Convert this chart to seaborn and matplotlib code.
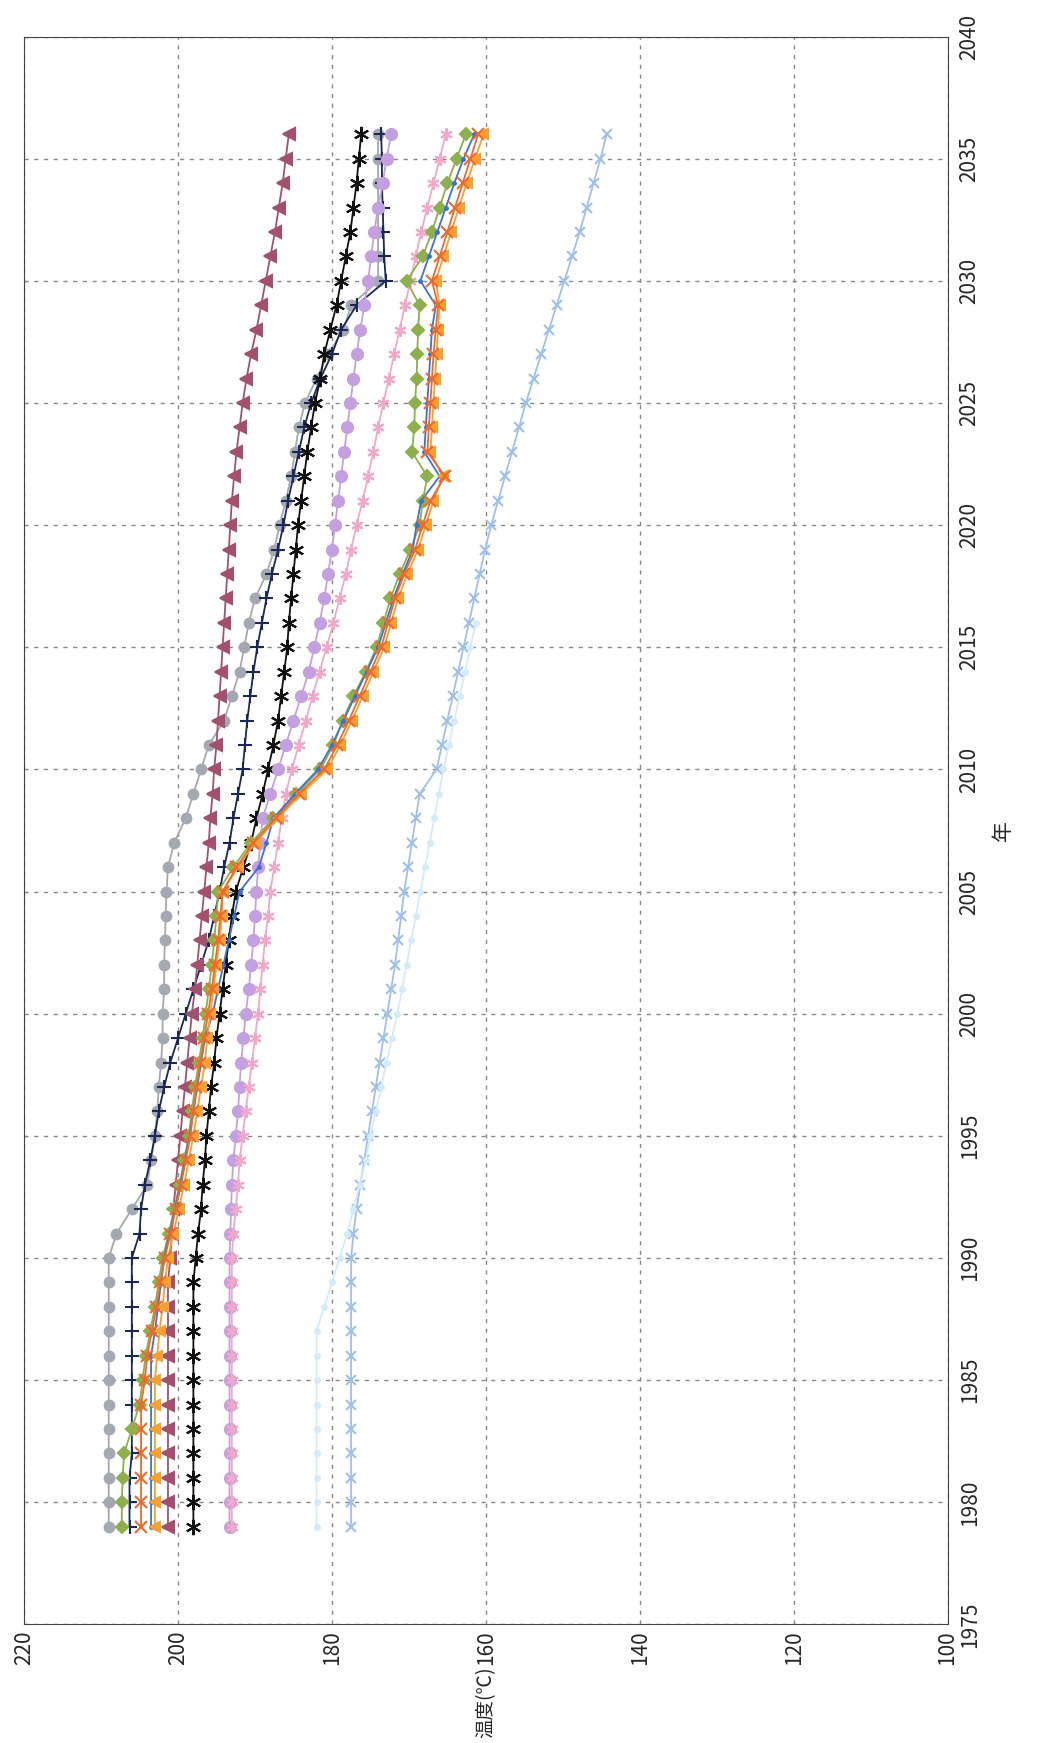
import numpy as np
import pandas as pd
import matplotlib
matplotlib.use("Agg")
import matplotlib.pyplot as plt
import seaborn as sns

years = list(range(1979, 2037))
nan = np.nan

gray = [209]*12 + [208, 206, 204, 203.5, 203, 202.7, 202.5, 202.2, 202, 202,
        201.8, 201.8, 201.7, 201.6, 201.5, 201.3, 200.5, 199, 198, 197,
        196, 194, 193, 192, 191.4, 190.8, 190, 188.5, 187.5, 186.8,
        186, 185.3, 184.8, 184.3, 183.5, 182, 180.5, 178.5, 177.5,
        174, 174, 174, 174, 174, 174, 174]
navy = [206.3]*3 + [206]*9 + [205, 204.8, 204.3, 203.6, 203, 202.5, 201.8, 201, 200, 199,
        198, 197, 196, 195.3, 194.6, 194, 193.3, 192.8, 192.2, 191.6,
        191.3, 191, 190.6, 190.2, 189.7, 189.1, 188.5, 187.8, 187, 186.3,
        185.7, 185, 184.3, 183.6, 182.7, 181.5, 180, 178.8, 176.8, 173,
        173.2, 173.3, 173.4, 173.5, 173.5, 173.6]
black = [198]*11 + [197.7, 197.4, 197, 196.8, 196.5, 196.3, 196, 195.7, 195.3, 195,
         194.6, 194.2, 193.8, 193.4, 193, 192.5, 191.5, 190.5, 189.8, 189,
         188.3, 187.6, 187, 186.6, 186.2, 185.8, 185.6, 185.3, 185, 184.7,
         184.4, 184, 183.6, 183.2, 182.7, 182.2, 181.5, 181, 180.2, 179.4,
         178.8, 178.2, 177.6, 177.2, 176.8, 176.5, 176.2]
maroon = [201.3]*11 + [201, 200.8, 200.6, 200.3, 200, 199.7, 199.4, 199.1, 198.8, 198.5,
          198.2, 197.8, 197.5, 197.2, 196.9, 196.6, 196.3, 196, 195.8, 195.5,
          195.3, 195, 194.8, 194.6, 194.4, 194.2, 194, 193.8, 193.6, 193.4,
          193.2, 193, 192.7, 192.4, 192, 191.6, 191.1, 190.5, 189.8, 189.2,
          188.6, 188, 187.4, 186.9, 186.4, 186, 185.6]
purple = [193.3]*12 + [193.2, 193.1, 193, 192.8, 192.5, 192.2, 192, 191.8, 191.5, 191.2,
          190.8, 190.5, 190.2, 190, 189.8, 189.6, 189.3, 189, 188, 187,
          186, 185, 184, 183, 182.3, 181.6, 181, 180.5, 180, 179.6,
          179.2, 178.8, 178.4, 178, 177.6, 177.2, 176.8, 176.3, 175.8, 175.3,
          174.9, 174.5, 174, 173.4, 172.9, 172.3]
pink = [193]*12 + [192.8, 192.5, 192.2, 192, 191.6, 191.2, 190.8, 190.4, 190, 189.6,
        189.3, 189, 188.7, 188.3, 188, 187.5, 187, 186.5, 186, 185.2,
        184.3, 183.4, 182.5, 181.6, 180.7, 179.8, 179, 178.2, 177.5, 176.8,
        176, 175.3, 174.6, 174, 173.3, 172.6, 171.9, 171.2, 170.5, 169.8,
        169.1, 168.4, 167.6, 166.8, 166, 165.2]
lightblue = [177.5]*12 + [177.2, 176.8, 176.3, 175.8, 175.3, 174.8, 174.3, 173.8, 173.3, 172.8,
             172.3, 171.8, 171.4, 171, 170.6, 170.1, 169.6, 169.1, 168.6, 166.4,
             165.7, 165, 164.3, 163.6, 162.9, 162.2, 161.5, 160.8, 160.1, 159.3,
             158.4, 157.5, 156.6, 155.7, 154.8, 153.8, 152.8, 151.8, 150.8, 149.8,
             148.8, 147.8, 146.9, 146, 145.1, 144.3]
pale = [182]*9 + [181, 180, 179, 178, 177.2, 176.4, 175.6, 175, 174.3, 173.6,
        172.9, 172.2, 171.5, 170.9, 170.3, 169.7, 169.1, 168.5, 167.9, 167.3,
        166.7, 166.1, 165.5, 164.8, 164.1, 163.4, 162.7, 162, 161.3] + [nan]*20
green = [207.3, 207.3, 207.2, 207, 206, 205, 204.6, 204.2, 203.6, 203,
         202.5, 202, 201.2, 200.5, 199.8, 199.2, 198.6, 198.2, 197.8, 197.3,
         196.8, 196.4, 196, 195.6, 195.3, 195, 194.8, 192.8, 190.5, 187.6,
         184.6, 181.5, 179.8, 178.6, 177.2, 175.6, 174.2, 173.3, 172.4, 171.2,
         169.8, 168.6, 168.2, 167.6, 169.6, 169.3, 169.2, 169, 168.9, 168.8,
         168.6, 170.3, 168.2, 167, 166, 165, 163.8, 162.6]
orange_x = [204.8]*6 + [204.3, 204, 203.4, 202.8, 202.3, 201.7, 201, 200.3, 199.6, 199,
            198.4, 198, 197.6, 197.1, 196.6, 196.1, 195.6, 195.2, 194.8, 194.5,
            194.2, 192.4, 190.2, 187.3, 184.3, 181, 179.3, 177.8, 176.4, 175,
            173.6, 172.7, 171.8, 170.6, 169.2, 168.2, 167.2, 165.3, 167.6, 167.4,
            167.2, 167, 166.8, 166.5, 166.2, 167, 166, 165, 164, 163, 162, 161]
blue = [203.5]*8 + [203, 202.6, 202.2, 201.8, 201.1, 200.4, 199.7, 199.1, 198.5, 198, 197.5, 197,
        196.5, 195.5, 194.8, 194.1, 193.4, 192.7, 192, 189.5, 188.5, 187.6,
        184.8, 181.8, 180, 178.5, 177, 175.5, 174, 173, 172, 170.8,
        169.5, 169, 168.4, 166, 168, 167.8, 167.6, 167.4, 167.2, 167,
        166.5, 168.5, 167.4, 166.3, 165.2, 164.1, 162.9, 161.5]
orange_sq = [203]*7 + [202.7, 202.4, 202, 201.7, 201.3, 200.6, 199.9, 199.2, 198.6, 198, 197.5, 197, 196.5,
             196.2, 195.8, 195.4, 195, 194.6, 194.3, 194.2, 192.2, 190, 187,
             184, 180.6, 178.9, 177.4, 176, 174.6, 173.2, 172.3, 171.4, 170.2,
             168.8, 167.8, 166.8, 165.6, 167.2, 167, 166.8, 166.6, 166.4, 166.2,
             166, 166.5, 165.5, 164.5, 163.5, 162.5, 161.4, 160.3]

series = [
    (gray, "#a4a8b0", "o", 7),
    (navy, "#1a2858", "+", 10),
    (black, "#111111", (6, 2, 0), 11),
    (maroon, "#a3506f", "<", 8),
    (purple, "#c4a0e0", "o", 8),
    (pink, "#f2a8c8", (6, 2, 0), 9),
    (lightblue, "#a0c0ec", "x", 7),
    (pale, "#d4ecf8", ".", 7),
    (green, "#8db04c", "D", 6),
    (blue, "#3f6fd0", ".", 4),
    (orange_sq, "#f5a030", "<", 7),
    (orange_x, "#ee6a2a", "x", 9),
]

sns.set_style("white")
plt.rcParams['font.family'] = ['Noto Sans CJK JP', 'DejaVu Sans']

fig = plt.figure(figsize=(10.47, 17.43), dpi=100)
ax = fig.add_axes([0.023, 0.068, 0.882, 0.911])

for vals, color, marker, ms in series:
    df = pd.DataFrame({"year": years, "temp": vals}).dropna()
    sns.lineplot(data=df, x="temp", y="year", orient="y", estimator=None,
                 sort=False, color=color,
                 marker=marker, markersize=ms, markeredgecolor=color,
                 markeredgewidth=1.5, linewidth=1.3, ax=ax)

ax.set_xlim(220, 100)
ax.set_ylim(1975, 2040)
ax.set_xticks(range(220, 99, -20))
ax.set_yticks(range(1975, 2041, 5))
ax.grid(True, linestyle=(0, (3, 4)), color="#888888", linewidth=1)
for s in ax.spines.values():
    s.set_color("#444444")
ax.yaxis.tick_right()
ax.yaxis.set_label_position("right")
ax.tick_params(axis="y", labelrotation=90, labelsize=15, length=0, pad=8)
ax.tick_params(axis="x", labelrotation=90, labelsize=15, length=0, pad=4)
for t in ax.get_yticklabels():
    t.set_va("center")
ax.set_xlabel("温度(℃)", fontsize=14, rotation=90, labelpad=1)
ax.set_ylabel("年", fontsize=15, rotation=90, labelpad=8)

fig.savefig("out.png")
